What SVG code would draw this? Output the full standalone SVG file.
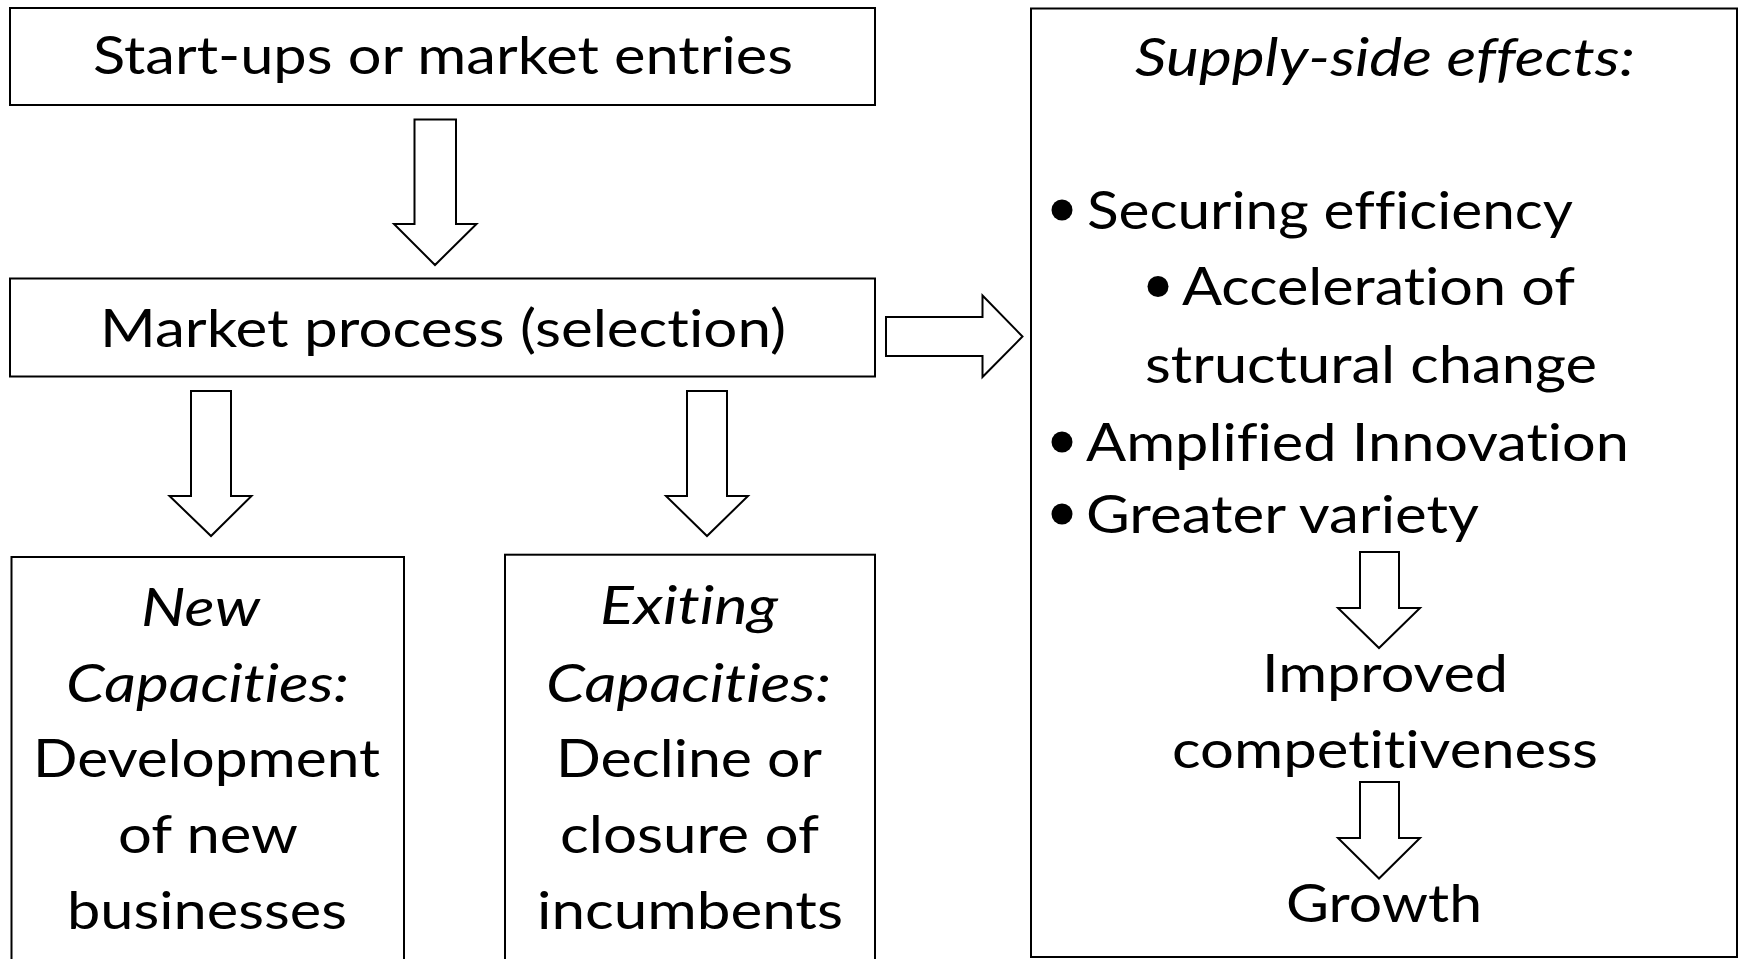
<svg xmlns="http://www.w3.org/2000/svg" width="1743" height="959" viewBox="0 0 1743 959">
<style>
.box{fill:#fff;stroke:#000;stroke-width:2}
.arr{fill:#fff;stroke:#000;stroke-width:2;stroke-linejoin:miter}
text{font-family:Lato,"Liberation Sans",sans-serif;font-size:52px;fill:#000;font-variant-ligatures:none;font-feature-settings:"liga" 0,"clig" 0,"dlig" 0}
.it{font-style:italic}
.dot{fill:#000}
</style>
<rect width="1743" height="959" fill="#fff"/>
<g id="connectors">
<path class="arr" d="M414.5 119.5 H456 V224 H476.5 L435 265 L394 224 H414.5 Z"/>
<path class="arr" d="M191 391 H231 V496 H251.5 L211 536 L169.5 496 H191 Z"/>
<path class="arr" d="M687 391 H727 V496 H748 L707 536 L666 496 H687 Z"/>
<path class="arr" d="M886 317 V356 H982.5 V377 L1022.5 336.5 L982.5 295.5 V317 Z"/>
</g>
<g id="startups">
<rect class="box" x="10" y="8" width="865" height="97"/>
<text x="93" y="74" textLength="700" lengthAdjust="spacingAndGlyphs">Start-ups or market entries</text>
</g>
<g id="market">
<rect class="box" x="10" y="278.5" width="865" height="98"/>
<text x="100" y="347" textLength="686" lengthAdjust="spacingAndGlyphs">Market process (selection)</text>
</g>
<g id="new">
<rect class="box" x="11.5" y="557" width="392.5" height="420"/>
<text class="it" x="141" y="626" textLength="119" lengthAdjust="spacingAndGlyphs">New</text>
<text class="it" x="66" y="702" textLength="283" lengthAdjust="spacingAndGlyphs">Capacities:</text>
<text x="33" y="777" textLength="347" lengthAdjust="spacingAndGlyphs">Development</text>
<text x="118" y="853" textLength="180" lengthAdjust="spacingAndGlyphs">of new</text>
<text x="67" y="929" textLength="280" lengthAdjust="spacingAndGlyphs">businesses</text>
</g>
<g id="exiting">
<rect class="box" x="505" y="554.7" width="370" height="420"/>
<text class="it" x="600" y="624" textLength="178" lengthAdjust="spacingAndGlyphs">Exiting</text>
<text class="it" x="546" y="702" textLength="285" lengthAdjust="spacingAndGlyphs">Capacities:</text>
<text x="556" y="777" textLength="266" lengthAdjust="spacingAndGlyphs">Decline or</text>
<text x="560" y="853" textLength="259" lengthAdjust="spacingAndGlyphs">closure of</text>
<text x="537" y="929" textLength="306" lengthAdjust="spacingAndGlyphs">incumbents</text>
</g>
<g id="supply">
<rect class="box" x="1031" y="8.5" width="706" height="948.5"/>
<text class="it" x="1135" y="75.5" textLength="500" lengthAdjust="spacingAndGlyphs">Supply-side effects:</text>
<circle class="dot" cx="1062" cy="210" r="10.5"/>
<text x="1087" y="228.5" textLength="486" lengthAdjust="spacingAndGlyphs">Securing efficiency</text>
<circle class="dot" cx="1158" cy="286.5" r="10.5"/>
<text x="1182" y="305" textLength="393" lengthAdjust="spacingAndGlyphs">Acceleration of</text>
<text x="1145" y="383" textLength="452" lengthAdjust="spacingAndGlyphs">structural change</text>
<circle class="dot" cx="1062" cy="442" r="10.5"/>
<text x="1086" y="460.5" textLength="543" lengthAdjust="spacingAndGlyphs">Amplified Innovation</text>
<circle class="dot" cx="1062" cy="514" r="10.5"/>
<text x="1086" y="532.5" textLength="393" lengthAdjust="spacingAndGlyphs">Greater variety</text>
<path class="arr" d="M1360 552 H1399 V608 H1420 L1379 648 L1338 608 H1360 Z"/>
<text x="1262" y="691.5" textLength="246" lengthAdjust="spacingAndGlyphs">Improved</text>
<text x="1172" y="768" textLength="426" lengthAdjust="spacingAndGlyphs">competitiveness</text>
<path class="arr" d="M1360 782 H1399 V838 H1420 L1379 878.5 L1338 838 H1360 Z"/>
<text x="1286" y="921.5" textLength="196" lengthAdjust="spacingAndGlyphs">Growth</text>
</g>
</svg>
